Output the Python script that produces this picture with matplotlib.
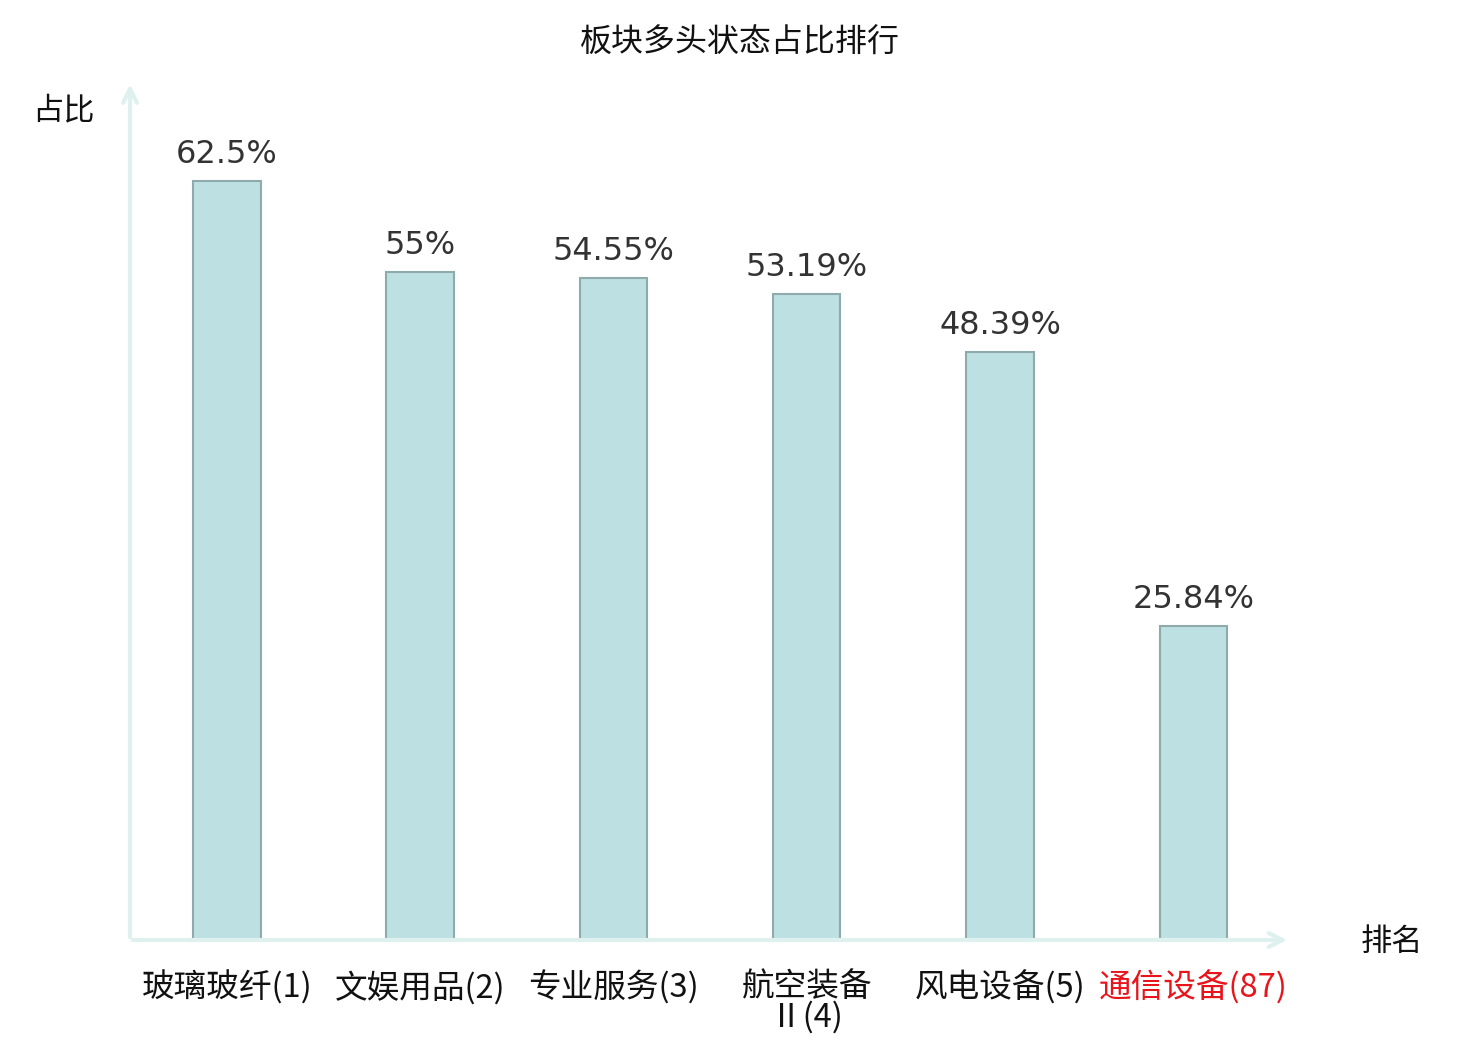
import matplotlib
matplotlib.use("Agg")
import matplotlib.pyplot as plt
import numpy as np

plt.rcParams['font.family'] = ['Noto Sans CJK SC', 'DejaVu Sans']

# data
labels = ['玻璃玻纤(1)', '文娱用品(2)', '专业服务(3)', '航空装备\nⅡ(4)', '风电设备(5)', '通信设备(87)']
values = [62.5, 55, 54.55, 53.19, 48.39, 25.84]
value_text = ['62.5%', '55%', '54.55%', '53.19%', '48.39%', '25.84%']
label_colors = ['#111111'] * 5 + ['#e8141b']

fig = plt.figure(figsize=(14.8, 10.4), dpi=100)
ax = fig.add_axes([130 / 1480, 100 / 1040, 1160 / 1480, 850 / 1040])

x = np.arange(len(values))
ax.bar(x, values, width=0.35, color='#bde0e3', edgecolor='#8faaaa', linewidth=1.5, zorder=2)

for xi, v, t in zip(x, values, value_text):
    ax.text(xi, v + 0.9, t, ha='center', va='bottom', fontsize=23,
            family='DejaVu Sans', color='#333333')

ax.set_xlim(-0.5, 5.5)
ax.set_ylim(0, 70)
ax.set_xticks(x)
ax.set_xticklabels(labels, fontsize=23.5, linespacing=0.95)
for lab, c in zip(ax.get_xticklabels(), label_colors):
    lab.set_color(c)
ax.tick_params(axis='x', length=0, pad=22)
ax.set_yticks([])
for s in ax.spines.values():
    s.set_visible(False)

# axis arrows
axis_col = '#def1ee'
ax.annotate('', xy=(0, 1.01), xytext=(0, 0), xycoords='axes fraction',
            arrowprops=dict(arrowstyle='->,head_length=1.0,head_width=0.5', color=axis_col, lw=3))
ax.annotate('', xy=(1.0, 0), xytext=(0, 0), xycoords='axes fraction',
            arrowprops=dict(arrowstyle='->,head_length=1.0,head_width=0.5', color=axis_col, lw=3))

fig.text(740 / 1480, 1 - 43 / 1040, '板块多头状态占比排行', ha='center', va='center', fontsize=23, color='#111111')
fig.text(63 / 1480, 1 - 110 / 1040, '占比', ha='center', va='center', fontsize=22.5, color='#111111')
fig.text(1392 / 1480, 1 - 942 / 1040, '排名', ha='center', va='center', fontsize=22.5, color='#111111')

fig.savefig('out.png', dpi=100)
